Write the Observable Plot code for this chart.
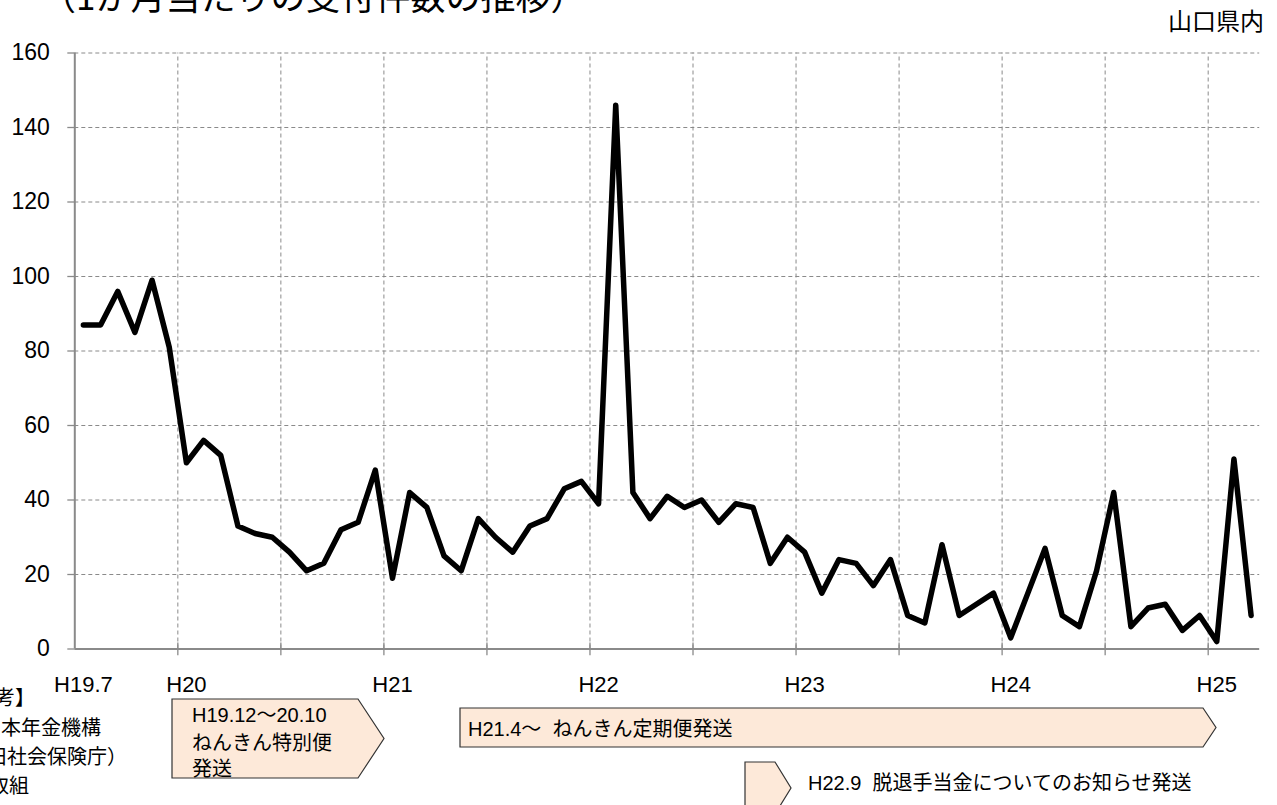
<!DOCTYPE html>
<html>
<head>
<meta charset="utf-8">
<script src="https://cdn.jsdelivr.net/npm/d3@7"></script>
<script src="https://cdn.jsdelivr.net/npm/@observablehq/plot@0.6"></script>
<style>
  html, body { margin: 0; padding: 0; background: #fff; }
  #wrap { position: relative; width: 1277px; height: 805px; overflow: hidden; background: #fff; }
  #wrap > svg { position: absolute; left: 0; top: 0; }
</style>
</head>
<body>
<div id="wrap"></div>
<script>
// ---- data ----
const months = [
  "H19.7","H19.8","H19.9","H19.10","H19.11","H19.12",
  "H20.1","H20.2","H20.3","H20.4","H20.5","H20.6","H20.7","H20.8","H20.9","H20.10","H20.11","H20.12",
  "H21.1","H21.2","H21.3","H21.4","H21.5","H21.6","H21.7","H21.8","H21.9","H21.10","H21.11","H21.12",
  "H22.1","H22.2","H22.3","H22.4","H22.5","H22.6","H22.7","H22.8","H22.9","H22.10","H22.11","H22.12",
  "H23.1","H23.2","H23.3","H23.4","H23.5","H23.6","H23.7","H23.8","H23.9","H23.10","H23.11","H23.12",
  "H24.1","H24.2","H24.3","H24.4","H24.5","H24.6","H24.7","H24.8","H24.9","H24.10","H24.11","H24.12",
  "H25.1","H25.2","H25.3"
];
const counts = [
  87,87,96,85,99,81,
  50,56,52,33,31,30,26,21,23,32,34,48,
  19,42,38,25,21,35,30,26,33,35,43,45,
  39,146,42,35,41,38,40,34,39,38,23,30,
  26,15,24,23,17,24,9,7,28,9,12,15,
  3,15,27,9,6,21,42,6,11,12,5,9,
  2,51,9
];
const xTickMonths = ["H19.7","H20.1","H21.1","H22.1","H23.1","H24.1","H25.1"];
const xTickLabels = ["H19.7","H20","H21","H22","H23","H24","H25"];
const yTicks = [0,20,40,60,80,100,120,140,160];
const titleText = "（1か月当たりの受付件数の推移）";
const unitText = "山口県内";
const noteLines = ["【参考】","日本年金機構","（旧社会保険庁）","の取組"];
const events = [
  ["H19.12～20.10","ねんきん特別便","発送"],
  ["H21.4～  ねんきん定期便発送"],
  ["H22.9  脱退手当金についてのお知らせ発送"]
];

const table = counts.map((v, i) => ({i, month: months[i], value: v}));
const tickIdx = xTickMonths.map(m => months.indexOf(m));
const labelOf = new Map(tickIdx.map((k, j) => [k, xTickLabels[j]]));
// boundaries every 6 months (between H19.12/H20.1, H20.6/H20.7 ...)
const boundaries = months.map((m, i) => i).filter(i => i > 0 && (i - 6) % 6 === 0).map(i => i - 0.5);

const W = 1277, H = 805;
const FONT = "'Liberation Sans', Arial, 'Noto Sans CJK JP', sans-serif";
const JFONT = "'Noto Sans CJK JP', 'Noto Sans', sans-serif";
const GRID = "#8a8a8a";

const chart = Plot.plot({
  width: W,
  height: H,
  marginLeft: 74.3,
  marginRight: 17.8,
  marginTop: 52.5,
  marginBottom: 156.5,
  style: {fontFamily: FONT, fontSize: "22px", color: "#000", background: "transparent"},
  x: {type: "linear", domain: [-0.5, months.length - 0.5], axis: null, label: null},
  y: {domain: [0, 160], axis: null, label: null},
  marks: [
    Plot.ruleY(yTicks.filter(d => d > 0), {stroke: GRID, strokeWidth: 1, strokeDasharray: "4,3"}),
    Plot.ruleX(boundaries, {y1: 0, y2: 160, stroke: GRID, strokeWidth: 1, strokeDasharray: "4,3"}),
    // x-axis tick marks at boundaries
    Plot.ruleX(boundaries, {y1: 1.6, y2: -1.8, stroke: GRID, strokeWidth: 1.3}),
    // y-axis tick marks
    Plot.ruleY(yTicks, {x1: -0.5 - 7 / 17.17, x2: -0.5, stroke: GRID, strokeWidth: 1.3}),
    // axis lines
    Plot.ruleY([0], {stroke: GRID, strokeWidth: 2}),
    Plot.ruleX([-0.5], {y1: 0, y2: 160, stroke: GRID, strokeWidth: 2}),
    Plot.axisY({ticks: yTicks, tickSize: 0, tickPadding: 25, fontSize: 23, fill: "#000", label: null}),
    Plot.axisX({ticks: tickIdx, tickSize: 0, tickPadding: 27, tickFormat: d => labelOf.get(d), fontSize: 22, fill: "#000", label: null}),
    Plot.line(table, {x: "i", y: "value", stroke: "#000", strokeWidth: 5.5, strokeLinejoin: "round", strokeLinecap: "round"})
  ]
});
document.getElementById("wrap").appendChild(chart);

// ---- overlay texts and event arrows ----
const svg = d3.select("#wrap").append("svg")
  .attr("width", W).attr("height", H)
  .style("pointer-events", "none");

svg.append("text").attr("x", 41).attr("y", 10)
  .attr("font-family", JFONT).attr("font-size", 35).attr("fill", "#000")
  .text(titleText);

svg.append("text").attr("x", 1264).attr("y", 30).attr("text-anchor", "end")
  .attr("font-family", JFONT).attr("font-size", 24).attr("fill", "#000")
  .text(unitText);

const noteEnds = [35, 101, 127, 29];
const noteBase = [705, 735, 764, 793];
noteLines.forEach((t, k) => {
  svg.append("text").attr("x", noteEnds[k]).attr("y", noteBase[k]).attr("text-anchor", "end")
    .attr("font-family", JFONT).attr("font-size", 20).attr("fill", "#000").text(t);
});

function pentagon(x0, y0, x1, tip, y1) {
  const ym = (y0 + y1) / 2;
  return `M${x0},${y0}L${x1},${y0}L${tip},${ym}L${x1},${y1}L${x0},${y1}Z`;
}
const shapes = [
  {box: [172, 699, 358, 384, 778], tx: 192, base: [722, 750, 776]},
  {box: [460, 708, 1203, 1216, 747], tx: 468, base: [736]},
  {box: [745, 762, 775, 791, 814], tx: 808, base: [790]}
];
shapes.forEach((s, k) => {
  svg.append("path").attr("d", pentagon(...s.box))
    .attr("fill", "#fde9d9").attr("stroke", "#333").attr("stroke-width", 1.2);
  events[k].forEach((line, j) => {
    svg.append("text").attr("x", s.tx).attr("y", s.base[j])
      .attr("font-family", FONT).attr("font-size", 20).attr("fill", "#000")
      .style("white-space", "pre")
      .text(line);
  });
});
</script>
</body>
</html>
